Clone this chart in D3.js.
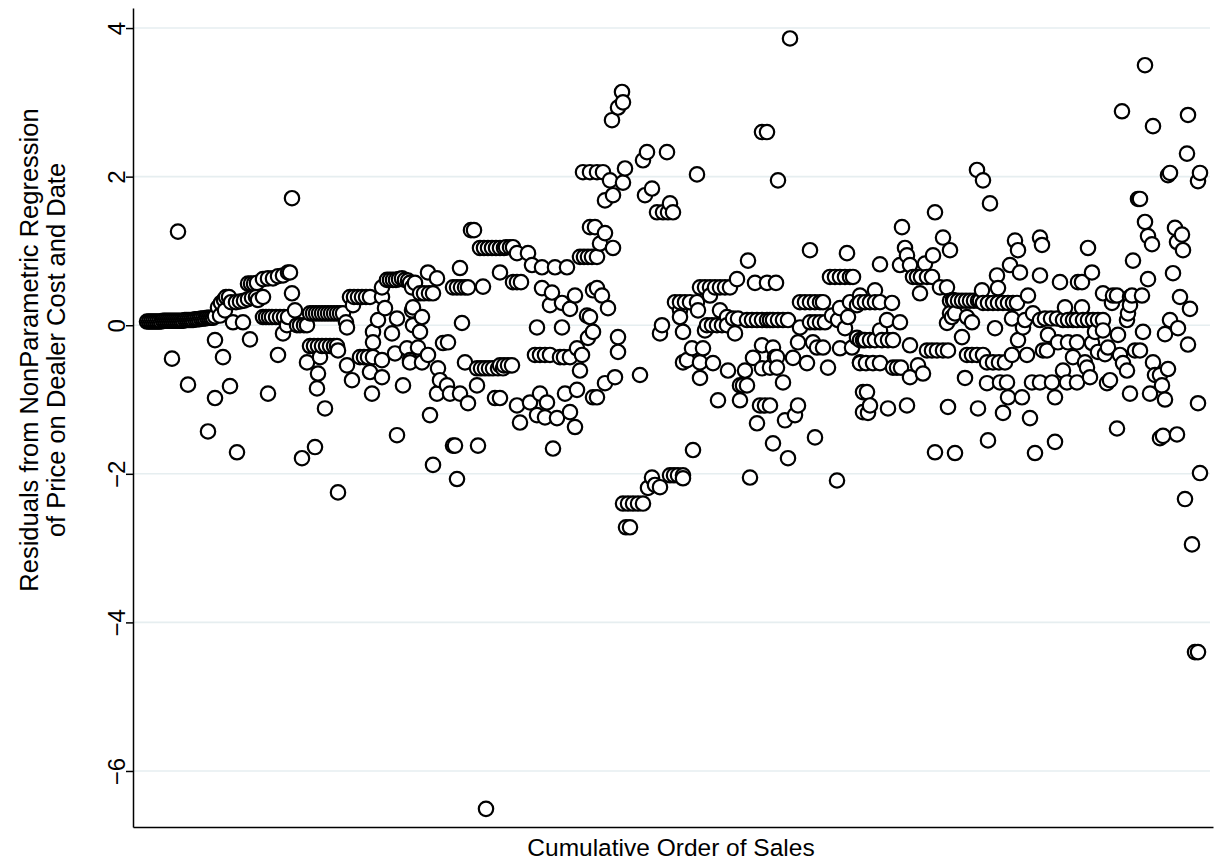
<!DOCTYPE html>
<html>
<head>
<meta charset="utf-8">
<script src="https://cdn.jsdelivr.net/npm/d3@7"></script>
<style>
  body { margin: 0; background: #fff; }
  svg { display: block; }
  text { font-family: "Liberation Sans", Arial, Helvetica, sans-serif; }
</style>
</head>
<body>
<div id="chart"></div>
<script>
// tick labels and titles
const yTicks = [-6, -4, -2, 0, 2, 4];
const xTitle = "Cumulative Order of Sales";
const yTitle = ["Residuals from NonParametric Regression", "of Price on Dealer Cost and Date"];

// [order of sale, residual], in chunks along the x axis
const seg1 = [[14,.05],[16,.05],[18,.05],[20,.05],[22,.05],[24,.05],[26,.05],[28,.05],[30,.06],[32,.06],[34,.06],[36,.06],[38,.06],[40,.06],[42,.06],[44,.06],[46,.06],[48,.06],[50,.06],[52,.07],[54,.07],[56,.07],[58,.07],[60,.07],[62,.08],[64,.08],[66,.08],[68,.09],[70,.09],[72,.09],[74,.1],[76,.1],[78,.1],[80,.1],[82,.12],
  [45,1.26],[39,-.45],[55,-.80],[75,-1.43],[82,-.98],[82,-.2],[90,-.43],[97,-.82],[104,-1.71],[85,.24],[87,.13],[88,.3],[91,.34],[92,.2],[93,.38],[96,.38],[98,.31],[100,.04]];
const seg2 = [[103,.31],[107,.32],[111,.33],[115,.35],[119,.37],[123,.38],[110,.04],[117,-.19],[115,.56],[118,.56],[121,.56],[124,.57],[130,.62],[135,.63],[140,.63],[145,.66],[150,.67],[155,.71],[157,.71],[159,.43],[159,1.71],[130,.38],[125,.34],
  [130,.11],[133,.11],[136,.11],[139,.11],[143,.11],[147,.11],[151,.11],[155,.11],[150,-.11],[154,0],[162,.2],[164,0],[167,0],[171,0],[174,0],
  [177,.16],[180,.16],[183,.16],[186,.16],[189,.16],[192,.16],[195,.16],[198,.16],[201,.16],[204,.16],[207,.16],[210,.16],
  [145,-.40],[135,-.92],[174,-.5],[177,-.28],[181,-.28],[185,-.28],[189,-.28],[193,-.28],[197,-.28],[201,-.28],[204,-.28],[185,-.65],[184,-.85],[187,-.43],[192,-1.12],[169,-1.79],[182,-1.64],[205,-.34],[205,-2.25]];
const seg3 = [[213,.04],[214,-.03],[217,.38],[221,.38],[225,.38],[229,.38],[233,.38],[220,.27],[237,.38],[249,.38],[252,.23],[249,.51],[254,.61],[257,.61],[260,.61],[263,.61],[266,.62],[269,.63],[272,.61],[275,.6],[279,.51],
  [245,.07],[240,-.09],[240,-.23],[264,.09],[259,-.11],[279,.2],[280,0],[214,-.54],[219,-.74],[227,-.43],[231,-.43],[235,-.43],[240,-.43],[237,-.63],[249,-.47],[249,-.7],[239,-.92],[262,-.38],[270,-.81],[274,-.31],[277,-.47],[264,-1.48],
  [277,.57],[282,.57],[295,.71],[304,.63],[287,.43],[291,.43],[296,.43],[300,.43],[280,.24],[289,.11],[287,-.09],[285,-.3],[277,-.5],[289,-.5],[295,-.4],[305,-.58],[310,-.24],[315,-.23],[307,-.74],[304,-.92],[314,-.81],[317,-.92],[297,-1.21],[300,-1.88]];
const seg4 = [[327,-.92],[335,-1.05],[320,-1.62],[322,-1.62],[345,-1.62],[324,-2.07],[327,.77],[320,.51],[324,.51],[328,.51],[332,.51],[335,.51],[350,.52],[329,.03],[332,-.5],
  [344,-.58],[348,-.58],[352,-.58],[356,-.58],[360,-.58],[365,-.58],[370,-.58],[344,-.81],[362,-.98],[338,1.28],[341,1.28],[347,1.04],[351,1.04],[355,1.04],[359,1.04],[363,1.04],[367,1.04],[371,1.04],[367,.71],[353,-6.51],
  [373,1.05],[377,1.05],[380,1.05],[384,.97],[395,.97],[399,.81],[409,.78],[422,.78],[434,.78],[447,.92],[451,.92],[455,.92],[459,.92],[380,.58],[384,.58],[388,.58],[409,.5],[419,.44],[417,.27],[429,.3],[442,.4],[437,.22],[429,-.03],[404,-.03],[454,.13],[455,-.17],[460,.47],
  [402,-.4],[407,-.4],[412,-.4],[417,-.4],[427,-.43],[431,-.43],[437,-.43],[444,-.31],[449,-.4],[447,-.61],[367,-.54],[371,-.54],[375,-.54],[379,-.54],[367,-.98],[384,-1.08],[387,-1.31],[397,-1.04],[407,-.92],[414,-1.04],[404,-1.21],[412,-1.24],[424,-1.25],[432,-.92],[444,-.87],[437,-1.17],[442,-1.37],[420,-1.66],[460,-.97],[450,2.06],[457,2.06],[457,1.32]];
const seg5 = [[489,3.14],[490,3.0],[485,2.93],[479,2.76],[514,2.33],[510,2.22],[534,2.33],[464,2.06],[470,2.06],[477,1.95],[492,2.11],[490,1.92],[480,1.75],[472,1.68],[519,1.84],[512,1.75],[524,1.52],[530,1.52],[535,1.52],[540,1.52],[537,1.64],
  [462,1.32],[472,1.24],[467,1.1],[480,1.04],[464,.92],[464,.5],[469,.4],[475,.23],[457,.11],[460,-.09],[485,-.16],[485,-.36],[507,-.67],[482,-.7],[472,-.78],[464,-.97],[542,.31],[529,0],[527,-.11],[547,.2],[550,-.5],
  [490,-2.4],[495,-2.4],[500,-2.4],[505,-2.4],[510,-2.4],[493,-2.72],[497,-2.72],[519,-2.05],[515,-2.19],[522,-2.15],[527,-2.18],[537,-2.02],[541,-2.02],[545,-2.02],[550,-2.02]];
const seg6 = [[629,2.6],[634,2.6],[564,2.03],[645,1.95],[615,.87],[604,.62],[567,.51],[572,.51],[577,.51],[582,.51],[587,.51],[592,.51],[597,.51],[577,.4],[622,.57],[634,.57],[547,.31],[552,.31],[557,.31],[564,.31],[565,.2],[547,.11],[550,-.09],
  [587,.2],[594,.11],[600,.09],[605,.09],[574,0],[579,0],[584,0],[589,0],[594,0],[572,-.07],[602,-.11],[614,.07],[619,.07],[624,.07],[629,.07],[634,.07],[637,.07],[559,-.31],[570,-.31],[554,-.47],[567,-.5],[580,-.51],[567,-.71],[595,-.61],[612,-.61],[620,-.44],[629,-.27],[629,-.58],[637,-.57],[642,-.43],
  [607,-.81],[610,-.81],[614,-.81],[585,-1.01],[607,-1.01],[627,-1.08],[632,-1.08],[637,-1.08],[624,-1.32],[640,-1.59],[560,-1.68],[550,-2.06],[617,-2.05]];
const seg7 = [[657,3.86],[677,1.01],[714,.97],[643,.57],[697,.65],[702,.65],[707,.65],[712,.65],[717,.65],[720,.65],[667,.31],[672,.31],[677,.31],[682,.31],[687,.31],[690,.31],[707,.23],[717,.31],[727,.4],[724,.27],[640,.07],[645,.07],[650,.07],[655,.07],[667,-.03],[677,.04],[682,.04],[687,.04],[692,.04],[699,.13],[705,.07],[715,.11],[712,-.04],[724,-.17],[730,-.2],
  [665,-.23],[680,-.23],[684,-.3],[690,-.3],[707,-.31],[719,-.3],[640,-.3],[644,-.43],[644,-.57],[660,-.44],[674,-.51],[695,-.57],[727,-.5],[650,-.77],[730,-.9],[730,-1.17],[665,-1.08],[662,-1.21],[652,-1.28],[682,-1.51],[655,-1.79],[704,-2.09]];
const seg8 = [[802,1.52],[769,1.32],[810,1.18],[817,1.01],[772,1.04],[774,.94],[800,.94],[792,.83],[747,.82],[767,.81],[777,.81],[780,.65],[784,.65],[788,.65],[794,.65],[799,.65],[787,.43],[807,.51],[814,.51],[820,.34],[742,.47],[727,.31],[732,.31],[737,.31],[742,.31],[747,.31],[759,.3],[754,.07],[767,.04],[747,-.07],
  [727,-.2],[732,-.2],[737,-.2],[742,-.2],[749,-.2],[755,-.2],[760,-.2],[777,-.27],[794,-.34],[799,-.34],[804,-.34],[810,-.34],[815,-.34],[814,.03],[819,.11],[727,-.51],[733,-.51],[740,-.51],[747,-.51],[760,-.57],[764,-.57],[768,-.57],[777,-.7],[785,-.54],[790,-.65],
  [734,-.9],[737,-1.08],[735,-1.18],[755,-1.12],[774,-1.08],[815,-1.1],[802,-1.71],[822,-1.72]];
const seg9 = [[844,2.09],[850,1.95],[857,1.64],[882,1.14],[885,1.01],[907,1.18],[909,1.08],[877,.81],[887,.71],[864,.67],[907,.67],[865,.5],[849,.47],[817,.33],[821,.33],[825,.33],[829,.33],[833,.33],[837,.33],[841,.33],[845,.33],[847,.33],[850,.3],[855,.3],[860,.3],[865,.3],[870,.3],[875,.3],[880,.3],[884,.3],[895,.4],
  [817,.16],[822,.16],[834,.11],[839,.04],[879,.09],[892,.07],[900,.16],[907,.07],[890,-.03],[862,-.04],[829,-.16],[885,-.2],[834,-.4],[839,-.4],[844,-.4],[850,-.4],[854,-.5],[860,-.5],[866,-.5],[872,-.5],[879,-.4],[894,-.4],[910,-.34],
  [832,-.71],[854,-.78],[867,-.77],[874,-.77],[875,-.97],[889,-.97],[899,-.77],[907,-.77],[845,-1.12],[870,-1.18],[897,-1.25],[855,-1.55],[902,-1.72]];
const seg10 = [[955,1.04],[1000,.87],[927,.58],[945,.58],[949,.58],[959,.71],[970,.43],[980,.4],[984,.4],[979,.3],[997,.38],[995,.16],[994,.07],[912,.09],[918,.09],[924,.09],[932,.24],[949,.24],[930,.07],[935,.07],[940,.07],[944,.07],[950,.07],[955,.07],[960,.07],[965,.07],[970,.07],
  [962,-.09],[970,-.07],[985,-.13],[915,-.13],[925,-.23],[935,-.23],[944,-.23],[959,-.24],[914,-.34],[965,-.36],[975,-.3],[972,-.39],[987,-.4],[990,-.51],[994,-.61],[1002,-.34],[940,-.43],[952,-.5],[954,-.57],[930,-.61],
  [919,-.77],[934,-.77],[944,-.77],[957,-.7],[974,-.78],[977,-.74],[922,-.97],[997,-.92],[984,-1.39],[922,-1.57]];
const seg11 = [[1012,3.5],[989,2.88],[1020,2.68],[1055,2.83],[1054,2.31],[1035,2.02],[1037,2.05],[1067,2.05],[1065,1.94],[1005,1.7],[1007,1.7],[1012,1.39],[1015,1.2],[1019,1.09],[1042,1.31],[1049,1.22],[1044,1.12],[1050,1.01],[1015,.62],[1040,.7],[1009,.4],[999,.4],[997,.27],[1047,.38],[1057,.22],
  [1037,.07],[1045,-.04],[1032,-.12],[1055,-.26],[1010,-.09],[1007,-.34],[1020,-.5],[1035,-.59],[1022,-.67],[1027,-.67],[1029,-.81],[1032,-1.0],[1017,-.92],[1065,-1.05],[1030,-1.49],[1027,-1.52],[1044,-1.47],[1067,-1.99],[1052,-2.34],[1059,-2.95],[1062,-4.4],[1065,-4.4]];

const sales = [seg1, seg2, seg3, seg4, seg5, seg6, seg7, seg8, seg9, seg10, seg11]
  .flat()
  .map(d => ({ order: d[0], resid: d[1] }))
  .sort((a, b) => a.order - b.order);

const width = 1217, height = 867;
const plot = { left: 133, right: 1213, top: 8, bottom: 827 };

const svg = d3.select('#chart').append('svg')
  .attr('width', width)
  .attr('height', height);

const x = d3.scaleLinear().domain([0, 1080]).range([plot.left, plot.right]);
const y = d3.scaleLinear().domain([-6.754, 4.27]).range([plot.bottom, plot.top]);

// grid lines
svg.append('g').attr('class', 'grid')
  .selectAll('line')
  .data(yTicks)
  .enter().append('line')
  .attr('x1', plot.left).attr('x2', 1210)
  .attr('y1', d => y(d)).attr('y2', d => y(d))
  .attr('stroke', '#e6eef0')
  .attr('stroke-width', 1.6);

// points
svg.append('g').attr('class', 'points')
  .selectAll('circle')
  .data(sales)
  .enter().append('circle')
  .attr('cx', d => x(d.order))
  .attr('cy', d => y(d.resid))
  .attr('r', 7.2)
  .attr('fill', '#fff')
  .attr('stroke', '#000')
  .attr('stroke-width', 2.2);

// y axis
const yAxis = svg.append('g')
  .attr('transform', `translate(${plot.left},0)`)
  .call(d3.axisLeft(y).tickValues(yTicks).tickSize(7).tickSizeOuter(0)
    .tickFormat(d => d < 0 ? '\u2212' + Math.abs(d) : String(d)));
yAxis.select('.domain').attr('stroke-width', 1.5);
yAxis.selectAll('.tick line').attr('stroke-width', 1.5);
yAxis.selectAll('.tick text')
  .attr('x', 0).attr('dy', 0).attr('y', 0)
  .attr('text-anchor', 'middle')
  .attr('transform', 'translate(-8,0) rotate(-90)')
  .attr('fill', '#000')
  .style('font-size', '24px')
  .style('font-family', '"Liberation Sans", Arial, sans-serif');

// x axis (no ticks)
const xAxis = svg.append('g')
  .attr('transform', `translate(0,${plot.bottom})`)
  .call(d3.axisBottom(x).tickValues([]).tickSizeOuter(0));
xAxis.select('.domain').attr('stroke-width', 1.5);

// titles
svg.append('text')
  .attr('x', 671).attr('y', 856)
  .attr('text-anchor', 'middle')
  .style('font-size', '24.5px')
  .text(xTitle);

svg.selectAll('.ytitle')
  .data(yTitle)
  .enter().append('text')
  .attr('class', 'ytitle')
  .attr('text-anchor', 'middle')
  .attr('transform', (d, i) => `translate(${38 + i * 27},350) rotate(-90)`)
  .style('font-size', '25.5px')
  .text(d => d);
</script>
</body>
</html>
